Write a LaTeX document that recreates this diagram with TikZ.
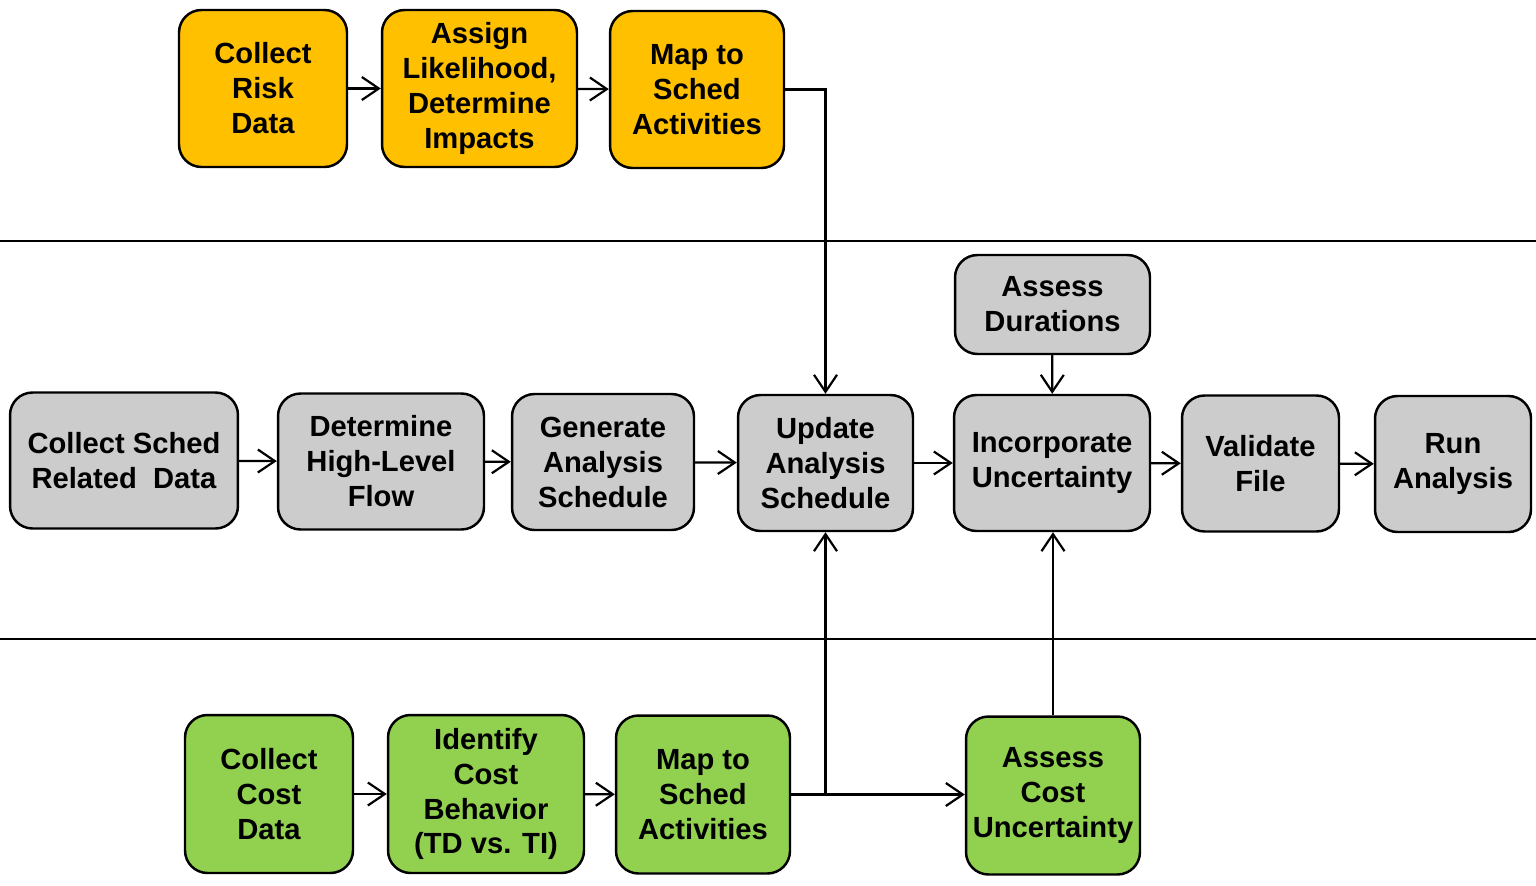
\documentclass[tikz,border=0pt]{standalone}
\usepackage{fontspec}
\setmainfont{Liberation Sans}
\usetikzlibrary{%
	arrows.meta,%
	calc%
}
\definecolor{riskfill}{HTML}{FFC000}
\definecolor{schedfill}{HTML}{CCCCCC}
\definecolor{costfill}{HTML}{92D050}

\tikzset{%
	stage/.style={draw,line width=1.4pt,rounded corners=0.45cm,align=center,
		inner sep=0pt,font=\fontsize{16.6}{19.9}\selectfont\bfseries},
	risk/.style={stage,fill=riskfill,minimum height=3.14cm},
	sched/.style={stage,fill=schedfill,minimum height=2.72cm},
	cost/.style={stage,fill=costfill,minimum height=3.16cm},
	flow/.style={line width=1.25pt,>={Straight Barb[length=0.34cm,width=0.46cm]}}
}

\begin{document}
\begin{tikzpicture}[x=0.02cm,y=-0.02cm]
			\useasboundingbox (0,0) rectangle (1536,886);
			% lane separators
			\draw[line width=0.8pt] (0,241) -- (1536,241)
			(0,639) -- (1536,639);
			%
			% risk lane
			\node[risk,minimum width=3.36cm] (rcol) at (263,88.5) {Collect\\Risk\\Data};
			\node[risk,minimum width=3.9cm] (rass) at (479.5,88.5) {Assign\\Likelihood,\\Determine\\Impacts};
			\node[risk,minimum width=3.48cm] (rmap) at (697,89.5) {Map to\\Sched\\Activities};
			%
			% schedule lane
			\node[sched,minimum width=3.9cm,minimum height=1.98cm] (dur) at (1052.5,304.5) {Assess\\Durations};
			\node[sched,minimum width=4.56cm] (scol) at (124,460.5) {Collect Sched\\Related\ \ Data};
			\node[sched,minimum width=4.12cm] (sflow) at (381,461.5) {Determine\\High-Level\\Flow};
			\node[sched,minimum width=3.64cm] (sgen) at (603,462) {Generate\\Analysis\\Schedule};
			\node[sched,minimum width=3.5cm] (upd) at (825.5,463) {Update\\Analysis\\Schedule};
			\node[sched,minimum width=3.92cm] (inc) at (1052,463) {Incorporate\\Uncertainty};
			\node[sched,minimum width=3.14cm] (val) at (1260.5,463.5) {Validate\\File};
			\node[sched,minimum width=3.12cm] (run) at (1453,464) {Run\\Analysis};
			%
			% cost lane
			\node[cost,minimum width=3.36cm] (ccol) at (269,794) {Collect\\Cost\\Data};
			\node[cost,minimum width=3.92cm] (cid) at (486,794) {Identify\\Cost\\Behavior\\(TD vs. TI)};
			\node[cost,minimum width=3.48cm] (cmap) at (703,794.5) {Map to\\Sched\\Activities};
			\node[cost,minimum width=3.48cm] (acu) at (1053,795.5) {Assess\\Cost\\Uncertainty};
			%
			\draw [flow,->] (rcol) edge (rass)
			(rass) edge (rmap)
			(scol) edge (sflow)
			(sflow) edge (sgen)
			(sgen) edge (upd)
			(upd) edge (inc)
			(inc) edge (val)
			(val) edge (run)
			(dur) edge (inc)
			(ccol) edge (cid)
			(cid) edge (cmap)
			;
			\draw [flow,->] (acu.north) -- (acu.north |- inc.south);
			\draw [flow,->] (cmap.east) -- (cmap.east -| acu.west);
			\draw [flow,->] (rmap.east) -| (upd.north);
			\draw [flow,->] (cmap.east) -| (upd.south);
		\end{tikzpicture}
\end{document}
